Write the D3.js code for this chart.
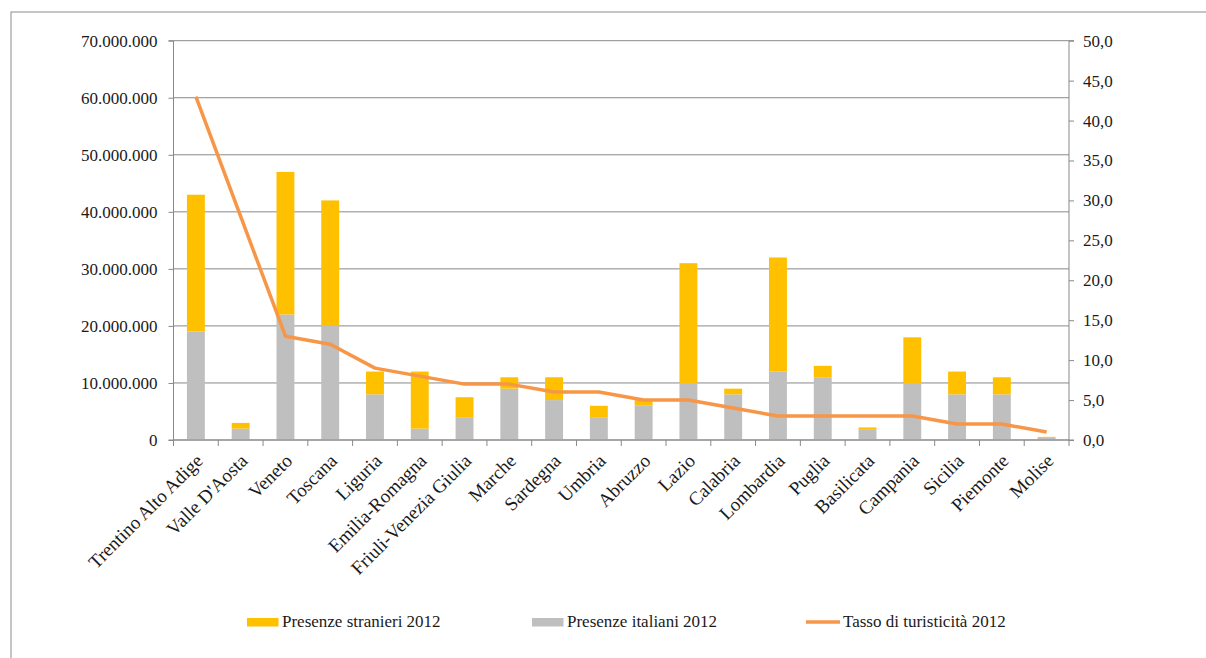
<!DOCTYPE html>
<html><head><meta charset="utf-8">
<script src="https://cdn.jsdelivr.net/npm/d3@7"></script>
<style>
body{margin:0;background:#fff;}
svg{display:block;}
svg text{font-family:"Liberation Serif","Times New Roman",serif;}
</style></head>
<body>
<svg id="chart" width="1206" height="658"></svg>
<script>
const categories = ["Trentino Alto Adige","Valle D'Aosta","Veneto","Toscana","Liguria","Emilia-Romagna","Friuli-Venezia Giulia","Marche","Sardegna","Umbria","Abruzzo","Lazio","Calabria","Lombardia","Puglia","Basilicata","Campania","Sicilia","Piemonte","Molise"];
const presenzeItaliani = [19000000,2000000,22000000,20000000,8000000,2000000,4000000,9000000,7000000,4000000,6000000,10000000,8000000,12000000,11000000,1900000,10000000,8000000,8000000,500000];
const presenzeStranieri = [24000000,1000000,25000000,22000000,4000000,10000000,3500000,2000000,4000000,2000000,1000000,21000000,1000000,20000000,2000000,300000,8000000,4000000,3000000,50000];
const tasso = [43,28,13,12,9,8,7,7,6,6,5,5,4,3,3,3,3,2,2,1];
const leftTicks = [0,10000000,20000000,30000000,40000000,50000000,60000000,70000000];
const rightTicks = [0,5,10,15,20,25,30,35,40,45,50];
const seriesNames = ["Presenze stranieri 2012","Presenze italiani 2012","Tasso di turisticità 2012"];

const colYellow = "#FFC000", colGray = "#BFBFBF", colOrange = "#F79646", colAxis = "#898989", colText = "#1a1a1a";
const FONT = '"Liberation Serif","Times New Roman",serif';
const locale = d3.formatLocale({decimal:",", thousands:".", grouping:[3], currency:["€",""]});
const fmtLeft = locale.format(",.0f");
const fmtRight = locale.format(".1f");

const svg = d3.select("#chart").attr("font-family", FONT);
const L = 173.5, R = 1069, T = 40.7, B = 440;

// outer border
svg.append("rect").attr("x",11).attr("y",12).attr("width",1300).attr("height",800)
  .attr("fill","none").attr("stroke","#8c8c8c").attr("stroke-width",1);

const x = d3.scaleBand().domain(categories).range([L,R]).padding(0);
const yL = d3.scaleLinear().domain([0,70000000]).range([B,T]);
const yR = d3.scaleLinear().domain([0,50]).range([B,T]);

// gridlines
svg.append("g").selectAll("line").data(leftTicks).join("line")
  .attr("x1",L).attr("x2",R).attr("y1",d=>yL(d)).attr("y2",d=>yL(d))
  .attr("stroke",colAxis).attr("stroke-width",1);

// bars
const bw = x.bandwidth()*0.4;
const g = svg.append("g");
categories.forEach((c,i)=>{
  const cx = x(c)+x.bandwidth()/2;
  g.append("rect").attr("x",cx-bw/2).attr("width",bw)
    .attr("y",yL(presenzeItaliani[i])).attr("height",B-yL(presenzeItaliani[i]))
    .attr("fill",colGray);
  g.append("rect").attr("x",cx-bw/2).attr("width",bw)
    .attr("y",yL(presenzeItaliani[i]+presenzeStranieri[i])).attr("height",yL(presenzeItaliani[i])-yL(presenzeItaliani[i]+presenzeStranieri[i]))
    .attr("fill",colYellow);
});

// axes
const axL = svg.append("g").attr("transform",`translate(${L},0)`)
  .call(d3.axisLeft(yL).tickValues(leftTicks).tickFormat(fmtLeft).tickSize(5).tickPadding(11));
const axR = svg.append("g").attr("transform",`translate(${R},0)`)
  .call(d3.axisRight(yR).tickValues(rightTicks).tickFormat(d=>fmtRight(d)).tickSize(5).tickPadding(9));
const axX = svg.append("g").attr("transform",`translate(0,${B})`)
  .call(d3.axisBottom(x).tickSize(0).tickFormat(""));
[axL,axR,axX].forEach(a=>{
  a.attr("font-family", FONT).attr("font-size", 17);
  a.select(".domain").attr("stroke",colAxis).attr("stroke-width",1);
  a.selectAll(".tick line").attr("stroke",colAxis);
  a.selectAll(".tick text").attr("fill",colText);
});
axL.select(".domain").attr("d",`M-5,${T}H0V${B}H-5`);
axR.select(".domain").attr("d",`M5,${T}H0V${B}H5`);
axX.select(".domain").attr("d",`M${L},0H${R}`);

// x band ticks
const bounds = categories.map(c=>x(c)).concat([R]);
svg.append("g").selectAll("line").data(bounds).join("line")
  .attr("x1",d=>d).attr("x2",d=>d).attr("y1",B).attr("y2",B+6)
  .attr("stroke",colAxis);

// x labels
svg.append("g").selectAll("text").data(categories).join("text")
  .attr("transform",d=>`translate(${x(d)+x.bandwidth()/2+8},${B+22}) rotate(-45)`)
  .attr("text-anchor","end").attr("fill",colText).attr("font-size",19)
  .text(d=>d);

// line
const line = d3.line().x((d,i)=>x(categories[i])+x.bandwidth()/2).y(d=>yR(d));
svg.append("path").datum(tasso).attr("d",line).attr("fill","none")
  .attr("stroke",colOrange).attr("stroke-width",3.5).attr("stroke-linejoin","round");

// legend
const lg = svg.append("g").attr("font-size",17).attr("fill",colText);
lg.append("rect").attr("x",247).attr("y",618).attr("width",31.5).attr("height",8.5).attr("fill",colYellow);
lg.append("text").attr("x",282).attr("y",627).text(seriesNames[0]);
lg.append("rect").attr("x",532).attr("y",618).attr("width",31.5).attr("height",8.5).attr("fill",colGray);
lg.append("text").attr("x",567).attr("y",627).text(seriesNames[1]);
lg.append("line").attr("x1",806).attr("x2",840).attr("y1",622).attr("y2",622).attr("stroke",colOrange).attr("stroke-width",3.5);
lg.append("text").attr("x",843).attr("y",627).text(seriesNames[2]);
</script>
</body></html>
